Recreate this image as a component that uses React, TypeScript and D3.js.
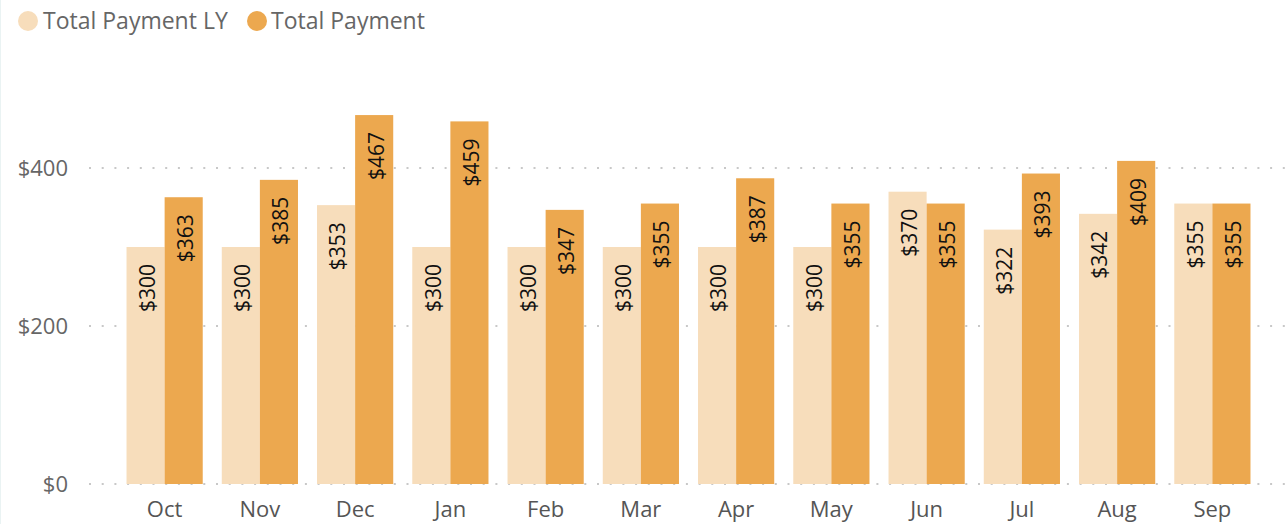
import React from "react";
import * as d3 from "d3";

const months = ["Oct", "Nov", "Dec", "Jan", "Feb", "Mar", "Apr", "May", "Jun", "Jul", "Aug", "Sep"];
const paymentLY = [300, 300, 353, 300, 300, 300, 300, 300, 370, 322, 342, 355];
const payment = [363, 385, 467, 459, 347, 355, 387, 355, 355, 393, 409, 355];
const yTicks = [0, 200, 400];
const seriesNames = ["Total Payment LY", "Total Payment"];
const seriesColors = ["#F7DDBB", "#ECA84F"];

const W = 1288;
const H = 524;
const FONT = "'Segoe UI', 'Open Sans', 'Noto Sans', sans-serif";

export default function App() {
  const x0 = d3.scaleBand<string>().domain(months).range([117, 1260]).paddingInner(0.2).paddingOuter(0.1);
  const x1 = d3.scaleBand<number>().domain([0, 1]).range([0, x0.bandwidth()]);
  const y = d3.scaleLinear().domain([0, 400]).range([484, 168]);
  const series = [paymentLY, payment];
  const fmt = (v: number) => "$" + d3.format("d")(v);

  return (
    <svg width={W} height={H} style={{ position: "absolute", left: 0, top: 0, background: "#fff" }} fontFamily={FONT}>
      <line x1={0.5} x2={0.5} y1={0} y2={H} stroke="#EAF3F3" strokeWidth={1} />
      {/* legend */}
      <g>
        <circle cx={28} cy={21} r={10} fill={seriesColors[0]} />
        <text x={43} y={29} fontSize={23} fill="#666">{seriesNames[0]}</text>
        <circle cx={257} cy={21} r={10} fill={seriesColors[1]} />
        <text x={271} y={29} fontSize={23} fill="#666">{seriesNames[1]}</text>
      </g>
      {/* gridlines */}
      {yTicks.map((t) => (
        <g key={t}>
          <line x1={89} x2={W} y1={y(t)} y2={y(t)} stroke="#C8C8C8" strokeWidth={2} strokeDasharray="2 10.7" />
          <text x={68} y={y(t)} dy="0.35em" textAnchor="end" fontSize={22} fill="#666">{fmt(t)}</text>
        </g>
      ))}
      {/* bars */}
      {months.map((m, i) => (
        <g key={m} transform={`translate(${x0(m)},0)`}>
          {series.map((s, k) => {
            const bx = x1(k)!;
            const bw = x1.bandwidth();
            const top = y(s[i]);
            return (
              <g key={k}>
                <rect x={bx} y={top} width={bw} height={y(0) - top} fill={seriesColors[k]} />
                <text
                  transform={`translate(${bx + bw / 2 + 2},${top + 17}) rotate(-90)`}
                  textAnchor="end"
                  dy="0.35em"
                  fontSize={21}
                  fill="#111"
                >
                  {fmt(s[i])}
                </text>
              </g>
            );
          })}
          <text x={x0.bandwidth() / 2} y={517} textAnchor="middle" fontSize={22} fill="#555">{m}</text>
        </g>
      ))}
    </svg>
  );
}
